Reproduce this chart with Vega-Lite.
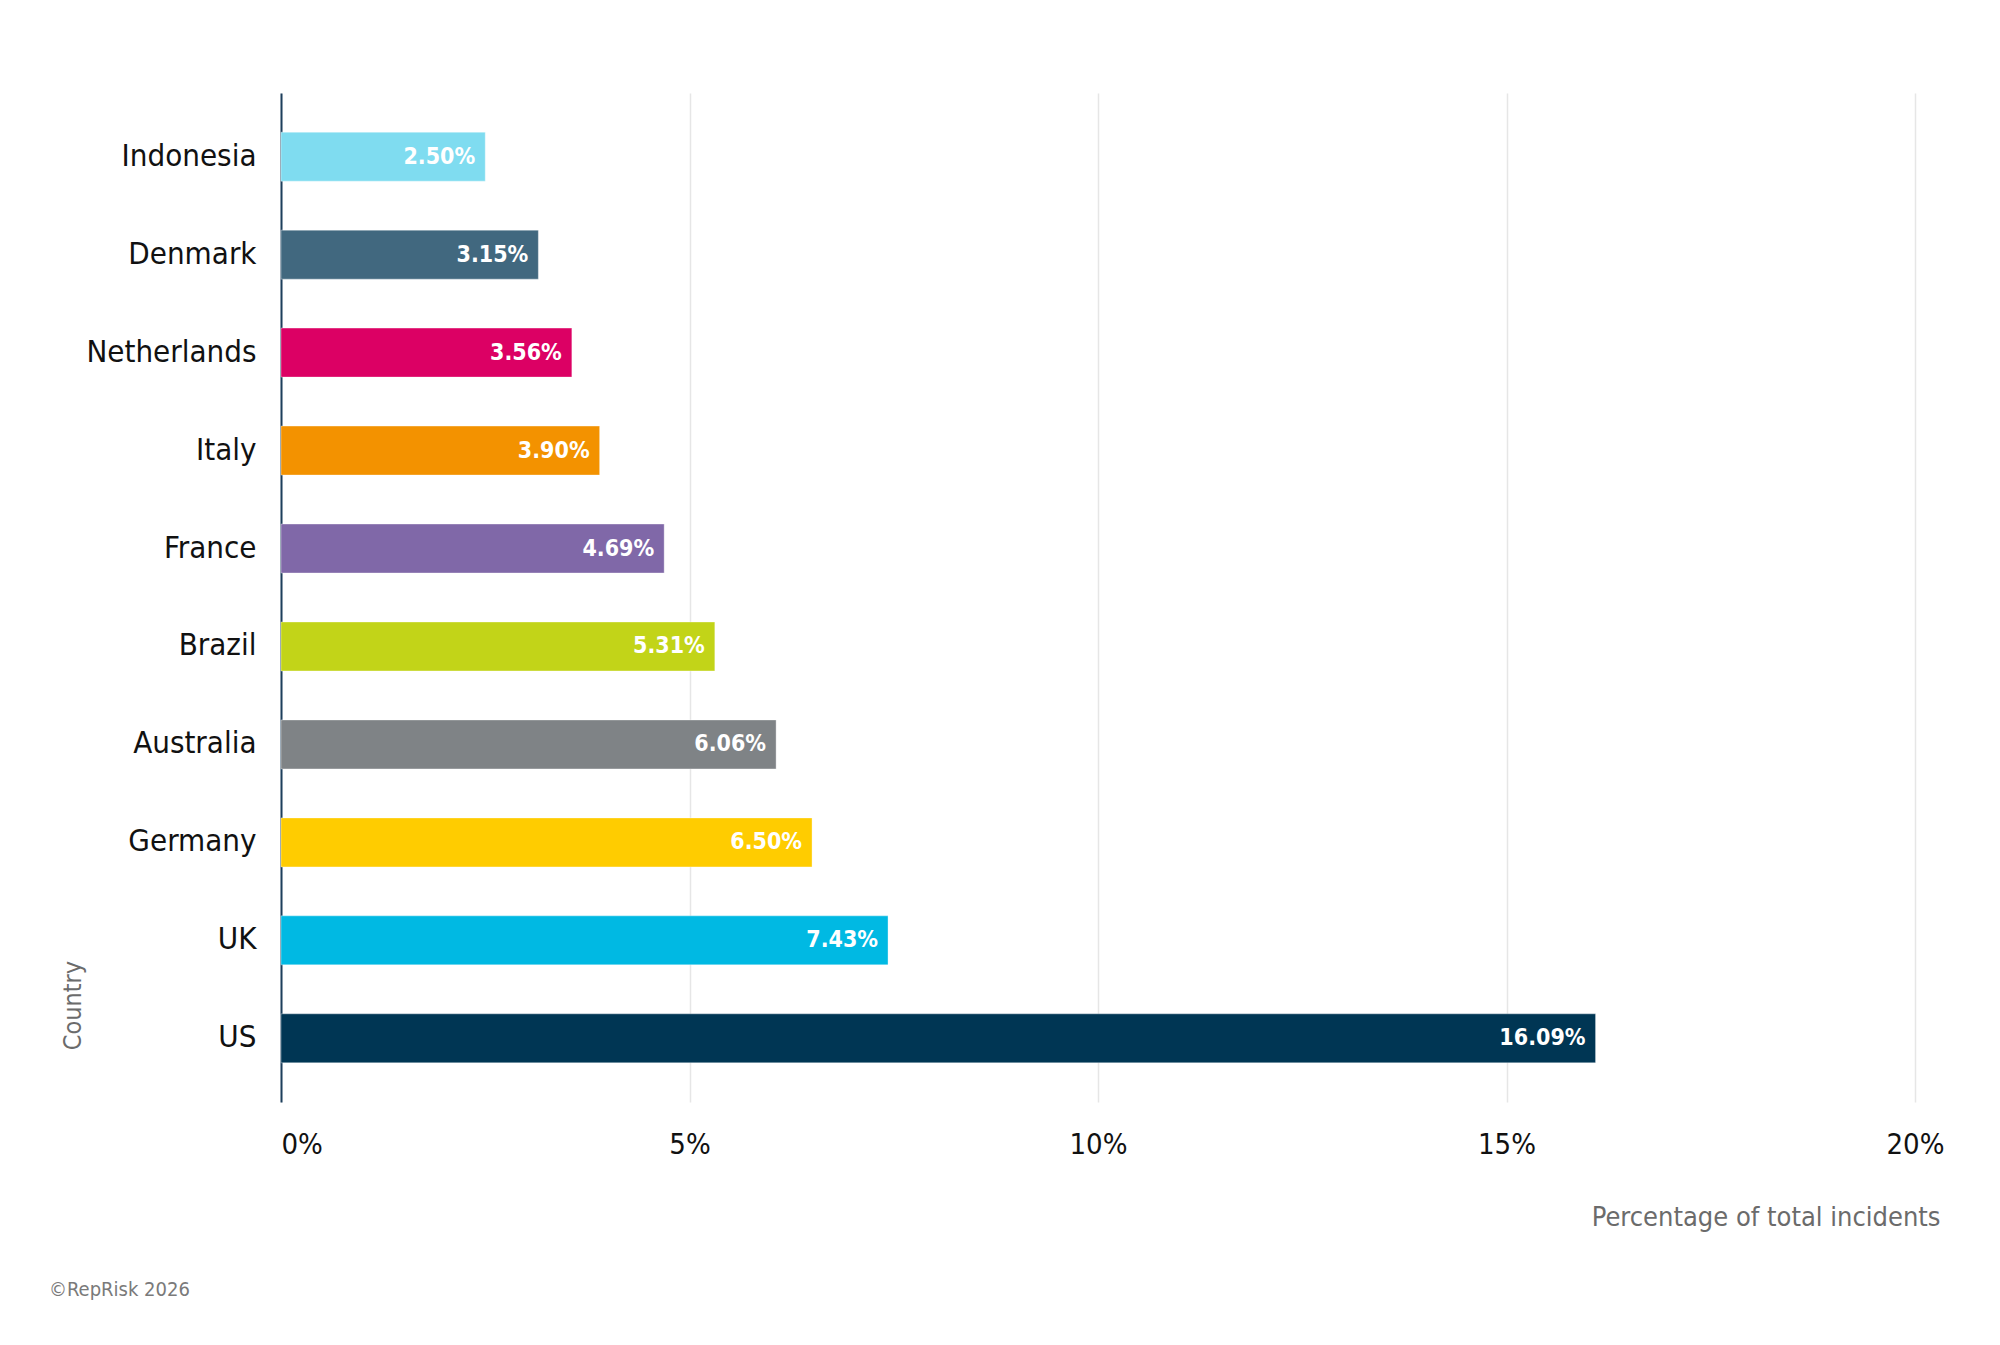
{
  "$schema": "https://vega.github.io/schema/vega-lite/v6.json",
  "autosize": "none",
  "width": 1634,
  "height": 1009,
  "padding": {"left": 281, "top": 93, "right": 85, "bottom": 243},
  "background": "white",
  "title": {
    "text": "©RepRisk 2026",
    "orient": "bottom",
    "anchor": "start",
    "frame": "group",
    "dx": -232,
    "offset": 50,
    "fontSize": 20,
    "fontWeight": "normal",
    "font": "DejaVu Sans Condensed",
    "color": "#7a7a7a"
  },
  "config": {
    "view": {"stroke": null},
    "font": "DejaVu Sans Condensed"
  },
  "data": {
    "values": [
      {"Country": "Indonesia", "Share": 2.50, "Label": "2.50%"},
      {"Country": "Denmark", "Share": 3.15, "Label": "3.15%"},
      {"Country": "Netherlands", "Share": 3.56, "Label": "3.56%"},
      {"Country": "Italy", "Share": 3.90, "Label": "3.90%"},
      {"Country": "France", "Share": 4.69, "Label": "4.69%"},
      {"Country": "Brazil", "Share": 5.31, "Label": "5.31%"},
      {"Country": "Australia", "Share": 6.06, "Label": "6.06%"},
      {"Country": "Germany", "Share": 6.50, "Label": "6.50%"},
      {"Country": "UK", "Share": 7.43, "Label": "7.43%"},
      {"Country": "US", "Share": 16.09, "Label": "16.09%"}
    ]
  },
  "encoding": {
    "y": {
      "field": "Country",
      "type": "nominal",
      "sort": null,
      "scale": {"paddingInner": 0.5, "paddingOuter": 0.4},
      "axis": {
        "title": "Country",
        "titleFontSize": 25,
        "titleFontWeight": "normal",
        "titleColor": "#6b6b6b",
        "titleAngle": -90,
        "titleAlign": "center",
        "titleBaseline": "middle",
        "titleX": -209,
        "titleY": 912,
        "labelFontSize": 31,
        "labelColor": "#111111",
        "labelPadding": 25,
        "ticks": false,
        "domainColor": "#1d3f5c",
        "domainWidth": 2,
        "grid": false
      }
    },
    "x": {
      "field": "Share",
      "type": "quantitative",
      "scale": {"domain": [0, 20], "nice": false},
      "axis": {
        "title": "Percentage of total incidents",
        "titleFontSize": 27,
        "titleFontWeight": "normal",
        "titleColor": "#6b6b6b",
        "titleAlign": "right",
        "titleX": 1659,
        "titleY": 102,
        "values": [0, 5, 10, 15, 20],
        "labelExpr": "datum.value + '%'",
        "labelAlign": {"condition": {"test": "datum.value === 0", "value": "left"}, "value": "center"},
        "labelFontSize": 29,
        "labelColor": "#111111",
        "labelPadding": 28,
        "ticks": false,
        "domain": false,
        "grid": true,
        "gridColor": "#e6e6e6",
        "gridWidth": 1.5
      }
    }
  },
  "layer": [
    {
      "mark": {"type": "bar", "stroke": "white", "strokeOpacity": 0.35, "strokeWidth": 1},
      "encoding": {
        "color": {
          "field": "Country",
          "type": "nominal",
          "legend": null,
          "scale": {
            "domain": ["Indonesia", "Denmark", "Netherlands", "Italy", "France", "Brazil", "Australia", "Germany", "UK", "US"],
            "range": ["#7fdcf0", "#41687f", "#dc0064", "#f39200", "#8068a8", "#c2d418", "#7f8386", "#ffcc00", "#00b9e3", "#003654"]
          }
        }
      }
    },
    {
      "mark": {"type": "text", "align": "right", "baseline": "middle", "dx": -10, "color": "white", "fontWeight": "bold", "fontSize": 23},
      "encoding": {
        "text": {"field": "Label", "type": "nominal"}
      }
    }
  ]
}
